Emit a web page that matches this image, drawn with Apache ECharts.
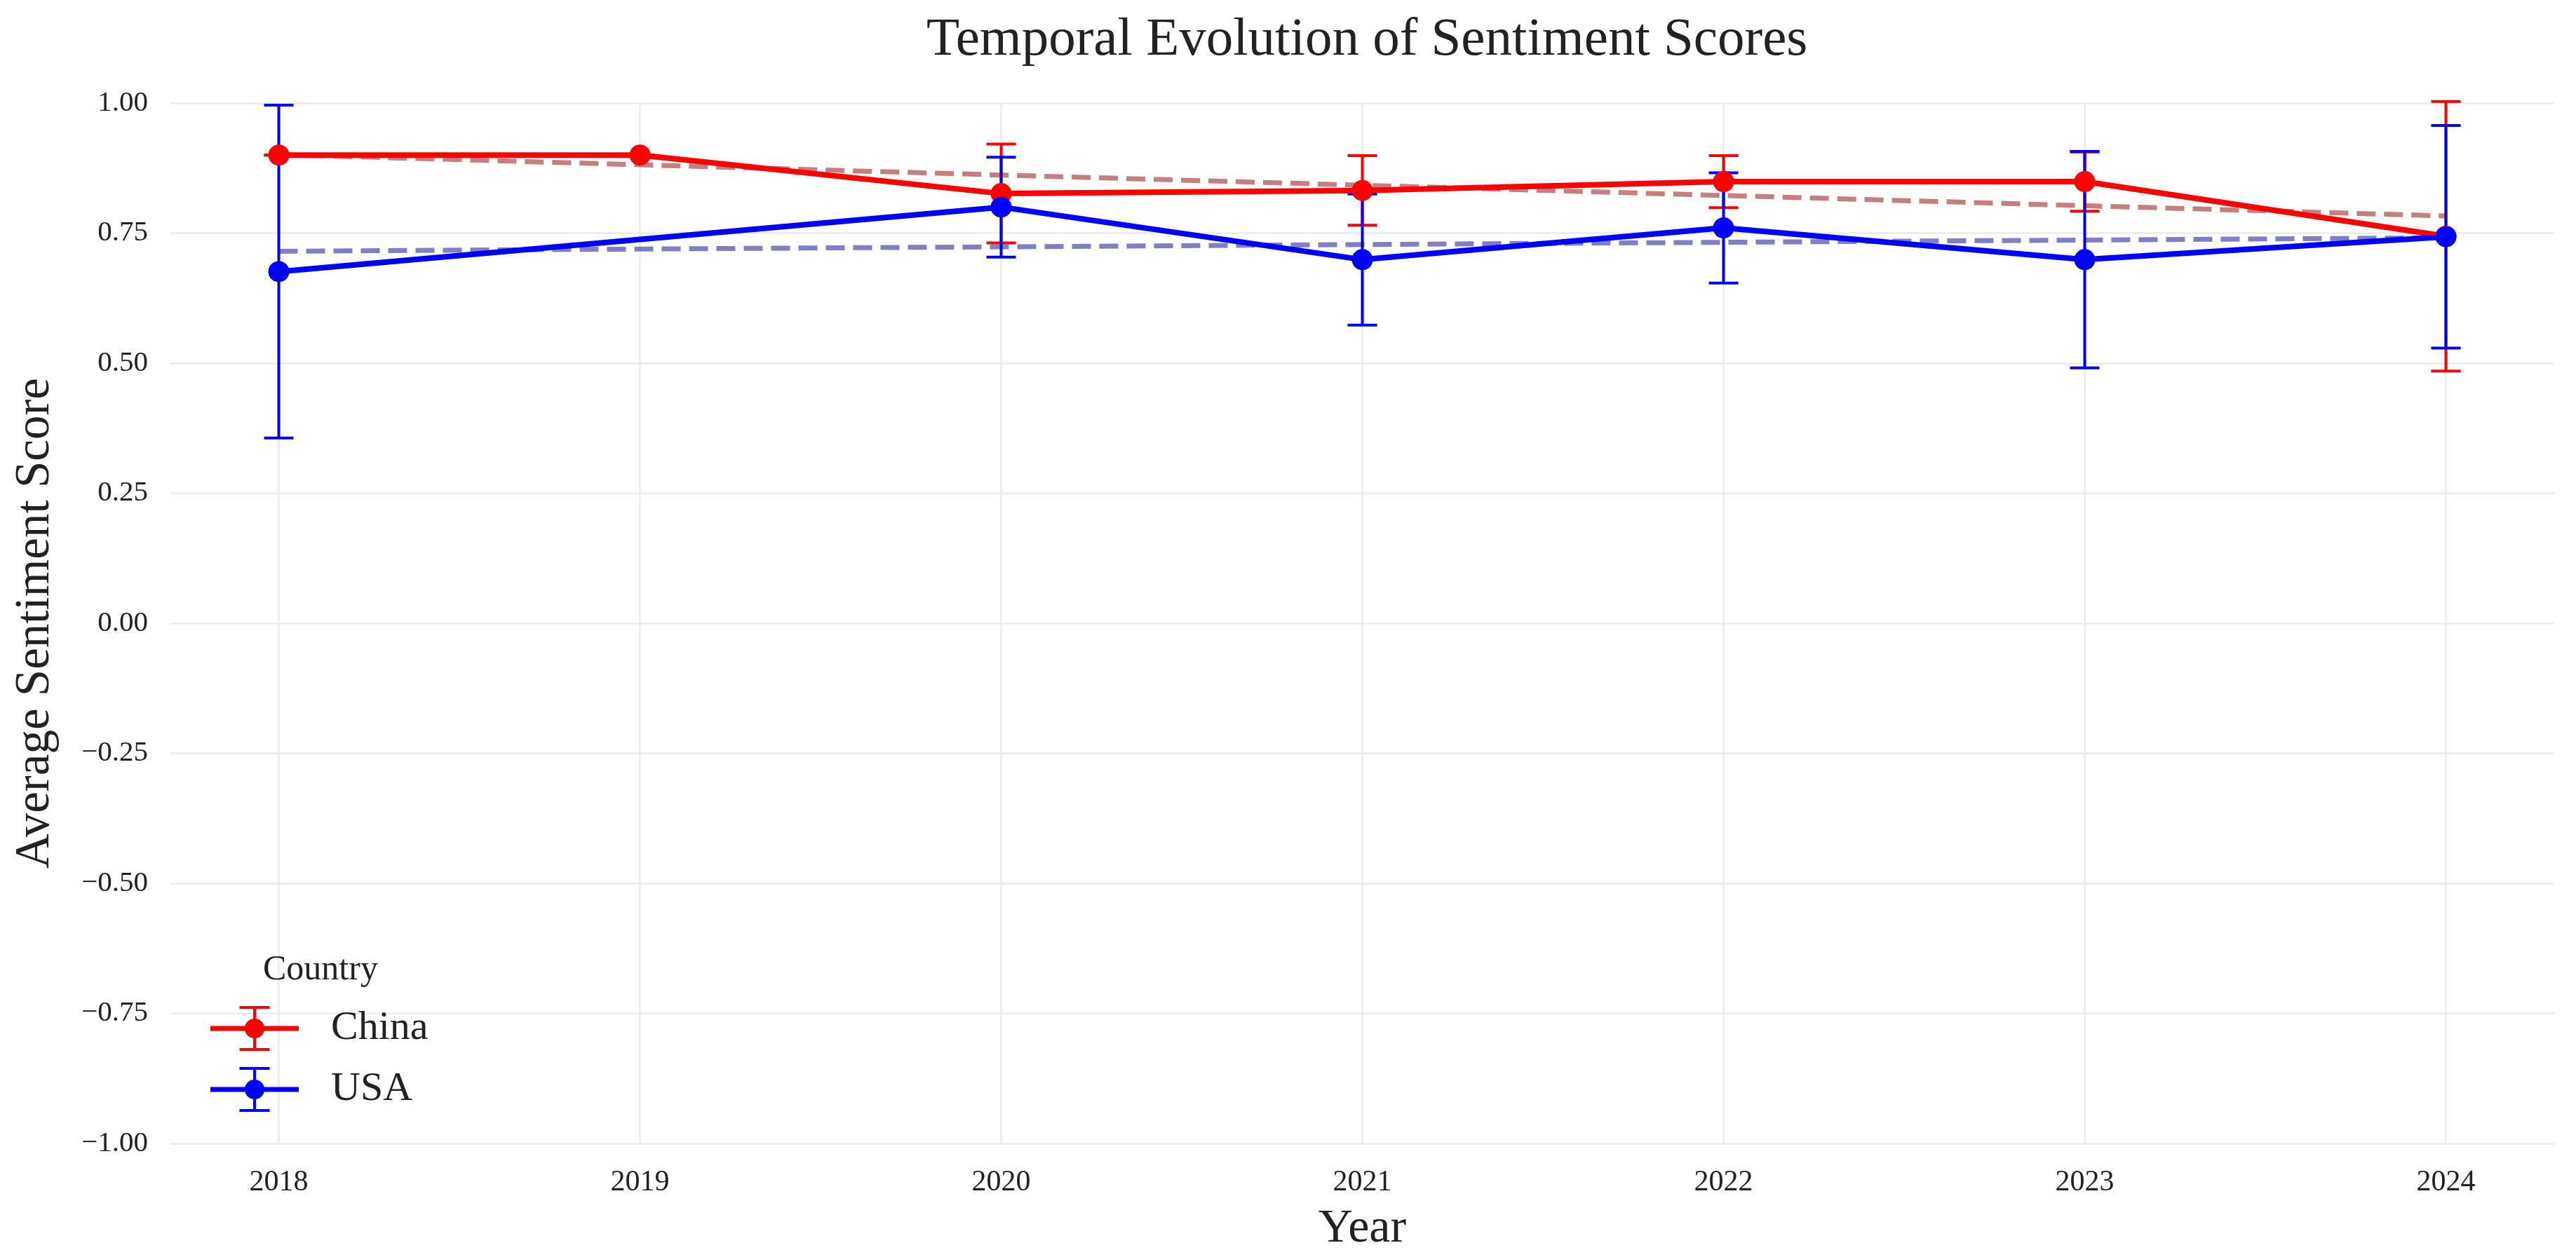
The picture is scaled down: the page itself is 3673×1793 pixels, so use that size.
<!DOCTYPE html>
<html>
<head>
<meta charset="utf-8">
<script src="https://cdn.jsdelivr.net/npm/echarts@6/dist/echarts.min.js"></script>
<style>
html,body{margin:0;padding:0;background:#fff;}
#chart{width:3673px;height:1793px;}
</style>
</head>
<body>
<div id="chart"></div>
<script>
// ---- data ----
const years = [2018, 2019, 2020, 2021, 2022, 2023, 2024];
const chinaMean = [0.900, 0.900, 0.826, 0.832, 0.849, 0.849, 0.744];
const chinaErr  = [0.000, 0.000, 0.095, 0.067, 0.050, 0.057, 0.259];
const usaMean   = [0.676, null, 0.800, 0.699, 0.760, 0.699, 0.743];
const usaErr    = [0.320, null, 0.096, 0.126, 0.106, 0.208, 0.214];
// trend line end points (year, value)
const chinaTrend = [[2018, 0.901], [2024, 0.783]];
const usaTrend   = [[2018, 0.715], [2024, 0.741]];

const FONT = 'Liberation Serif';
const TXT = '#222222';
const GRID = '#ebebeb';

function pairs(means) {
  const out = [];
  years.forEach((y, i) => { if (means[i] !== null) out.push([y, means[i]]); });
  return out;
}
function errData(means, errs) {
  const out = [];
  years.forEach((y, i) => {
    if (means[i] !== null && errs[i] !== null) out.push([y, means[i] - errs[i], means[i] + errs[i]]);
  });
  return out;
}
function errRender(color) {
  return function (params, api) {
    const x = api.value(0), lo = api.value(1), hi = api.value(2);
    const pLo = api.coord([x, lo]);
    const pHi = api.coord([x, hi]);
    const hw = 21;
    const st = { stroke: color, lineWidth: 4, fill: null };
    return {
      type: 'group',
      children: [
        { type: 'line', shape: { x1: pHi[0], y1: pHi[1], x2: pLo[0], y2: pLo[1] }, style: st },
        { type: 'line', shape: { x1: pHi[0] - hw, y1: pHi[1], x2: pHi[0] + hw, y2: pHi[1] }, style: st },
        { type: 'line', shape: { x1: pLo[0] - hw, y1: pLo[1], x2: pLo[0] + hw, y2: pLo[1] }, style: st }
      ]
    };
  };
}

const legendIcon = 'path://M0,28.5H126V35.5H0Z M61,2H65V62H61Z M41.5,0H84.5V4H41.5Z M41.5,60H84.5V64H41.5Z M49,32A14,14,0,1,1,77,32A14,14,0,1,1,49,32Z';

const chart = echarts.init(document.getElementById('chart'), null, { renderer: 'canvas' });
chart.setOption({
  animation: false,
  backgroundColor: '#ffffff',
  title: [
    {
      text: 'Temporal Evolution of Sentiment Scores',
      left: 1316, top: 14,
      textStyle: { fontFamily: FONT, fontSize: 77, fontWeight: 'normal', color: TXT }
    },
    {
      text: 'Country',
      left: 370, top: 1354,
      textStyle: { fontFamily: FONT, fontSize: 50, fontWeight: 'normal', color: TXT }
    }
  ],
  legend: {
    data: ['China', 'USA'],
    orient: 'vertical',
    left: 295, top: 1430,
    itemWidth: 126, itemHeight: 64,
    itemGap: 23,
    icon: legendIcon,
    itemStyle: { borderWidth: 0 },
    textStyle: { fontFamily: FONT, fontSize: 58, color: TXT, padding: [0, 0, 0, 41] }
  },
  grid: { left: 243, right: 31, top: 147, bottom: 162, containLabel: false },
  xAxis: {
    type: 'value',
    min: 2017.7, max: 2024.3,
    name: 'Year',
    nameLocation: 'middle',
    nameGap: 88,
    nameTextStyle: { fontFamily: FONT, fontSize: 68, color: TXT },
    axisLine: { show: false },
    axisTick: { show: false, customValues: years },
    axisLabel: {
      customValues: years,
      margin: 35,
      fontFamily: FONT, fontSize: 42, color: TXT,
      formatter: v => String(Math.round(v))
    },
    splitLine: { show: true, lineStyle: { color: GRID, width: 2.5 } }
  },
  yAxis: {
    type: 'value',
    min: -1, max: 1, interval: 0.25,
    name: 'Average Sentiment Score',
    nameLocation: 'middle',
    nameGap: 158,
    nameTextStyle: { fontFamily: FONT, fontSize: 69, color: TXT },
    axisLine: { show: false },
    axisTick: { show: false },
    axisLabel: {
      margin: 32,
      fontFamily: FONT, fontSize: 41, color: TXT,
      formatter: v => (v < 0 ? '\u2212' : '') + Math.abs(v).toFixed(2)
    },
    splitLine: { show: true, lineStyle: { color: GRID, width: 2.5 } }
  },
  series: [
    {
      name: 'China trend', type: 'line', data: chinaTrend,
      symbol: 'none', silent: true,
      lineStyle: { color: 'rgba(139,0,0,0.5)', width: 7, type: [27, 12] }
    },
    {
      name: 'USA trend', type: 'line', data: usaTrend,
      symbol: 'none', silent: true,
      lineStyle: { color: 'rgba(0,0,139,0.5)', width: 7, type: [27, 12] }
    },
    {
      name: 'China err', type: 'custom', data: errData(chinaMean, chinaErr),
      renderItem: errRender('#ff0000'), encode: { x: 0, y: [1, 2] }, silent: true
    },
    {
      name: 'China', type: 'line', data: pairs(chinaMean),
      symbol: 'circle', symbolSize: 30, showAllSymbol: true,
      itemStyle: { color: '#ff0000', borderWidth: 0 },
      lineStyle: { color: '#ff0000', width: 8 }
    },
    {
      name: 'USA err', type: 'custom', data: errData(usaMean, usaErr),
      renderItem: errRender('#0000ff'), encode: { x: 0, y: [1, 2] }, silent: true
    },
    {
      name: 'USA', type: 'line', data: pairs(usaMean),
      symbol: 'circle', symbolSize: 30, showAllSymbol: true,
      itemStyle: { color: '#0000ff', borderWidth: 0 },
      lineStyle: { color: '#0000ff', width: 8 }
    }
  ]
});
</script>
</body>
</html>
